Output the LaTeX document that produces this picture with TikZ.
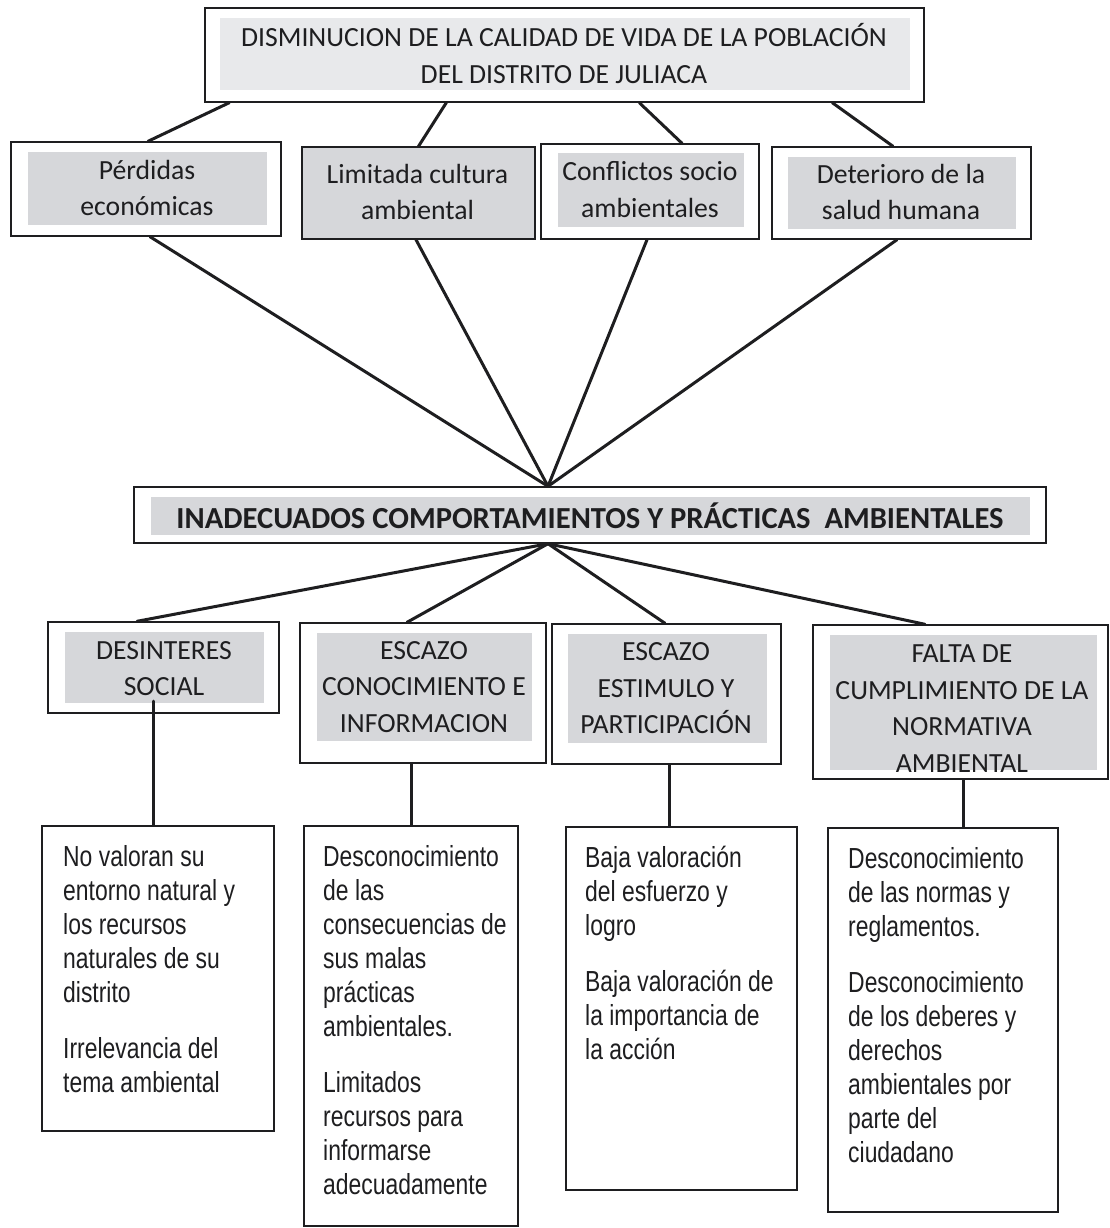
\documentclass[tikz,border=0pt]{standalone}
\usepackage{fontspec}
\setmainfont{Carlito}
\newfontfamily\arialn{Liberation Sans}[FakeStretch=0.79]
\usetikzlibrary{calc}
\definecolor{greyfill}{RGB}{214,215,218}
\definecolor{lightfill}{RGB}{232,233,235}
\definecolor{ink}{RGB}{30,30,32}
\tikzset{
  outer/.style={draw=ink, line width=1.4pt, fill=white, inner sep=0pt, rectangle},
  shadebox/.style={fill=greyfill, inner sep=0pt, rectangle},
  label/.style={inner sep=0pt, align=center, text=ink, font=\fontsize{27.7}{36.5}\selectfont},
  boldlabel/.style={inner sep=0pt, align=center, text=ink, font=\bfseries\fontsize{30.6}{36}\selectfont},
  link/.style={draw=ink, line width=3pt, line cap=round},
  bodytext/.style={anchor=north west, inner sep=0pt, align=left, text=ink, font=\arialn\fontsize{29}{34}\selectfont},
}
\begin{document}
\begin{tikzpicture}[x=1pt,y=-1pt]
\useasboundingbox (0,0) rectangle (1110,1228);
\fill[white] (0,0) rectangle (1110,1228);

% ---------- top box ----------
\node[outer, minimum width=719pt, minimum height=94pt] (t) at (564.5,55) {};
\node[shadebox, fill=lightfill, minimum width=690pt, minimum height=72pt] (tg) at (565,54) {};
\node[label] (tl) at (564,53.5) {DISMINUCION DE LA CALIDAD DE VIDA DE LA POBLACIÓN\\DEL DISTRITO DE JULIACA};

% ---------- effects ----------
\node[outer, minimum width=270pt, minimum height=94pt] (p1) at (146,189) {};
\node[shadebox, minimum width=239pt, minimum height=73pt] (p1g) at (147.5,188.5) {};
\node[label] (p1l) at (147,188) {Pérdidas\\económicas};

\node[outer, fill=greyfill, minimum width=233pt, minimum height=92pt] (p2) at (418.5,193) {};
\node[label] (p2l) at (417.5,192) {Limitada cultura\\ambiental};

\node[outer, minimum width=218pt, minimum height=95pt] (p3) at (650,191.5) {};
\node[shadebox, minimum width=186pt, minimum height=74pt] (p3g) at (651,190) {};
\node[label] (p3l) at (650,189.5) {Conflictos socio\\ambientales};

\node[outer, minimum width=259pt, minimum height=92pt] (p4) at (901.5,193) {};
\node[shadebox, minimum width=228pt, minimum height=72pt] (p4g) at (902,193) {};
\node[label] (p4l) at (901,192) {Deterioro de la\\salud humana};

% ---------- central problem ----------
\node[outer, minimum width=912pt, minimum height=56pt] (m) at (590,515) {};
\node[shadebox, minimum width=879pt, minimum height=38pt] (mg) at (590.5,516) {};
\node[boldlabel] (ml) at (590,515.5) {INADECUADOS COMPORTAMIENTOS Y PRÁCTICAS\ \ AMBIENTALES};

% ---------- causes ----------
\node[outer, minimum width=231pt, minimum height=91pt] (c1) at (163.5,667.5) {};
\node[shadebox, minimum width=199pt, minimum height=71pt] (c1g) at (164.5,667.5) {};
\node[label] (c1l) at (164,668.5) {DESINTERES\\SOCIAL};

\node[outer, minimum width=246pt, minimum height=140pt] (c2) at (423,693) {};
\node[shadebox, minimum width=215pt, minimum height=108pt] (c2g) at (424.5,687) {};
\node[label] (c2l) at (424,687) {ESCAZO\\CONOCIMIENTO E\\INFORMACION};

\node[outer, minimum width=229pt, minimum height=140pt] (c3) at (666.5,694) {};
\node[shadebox, minimum width=199pt, minimum height=109pt] (c3g) at (667.5,688.5) {};
\node[label] (c3l) at (666,688.5) {ESCAZO\\ESTIMULO Y\\PARTICIPACIÓN};

\node[outer, minimum width=295pt, minimum height=154pt] (c4) at (960.5,702) {};
\node[shadebox, minimum width=267pt, minimum height=135pt] (c4g) at (963.5,702.5) {};
\node[label] (c4l) at (962,708.5) {FALTA DE\\CUMPLIMIENTO DE LA\\NORMATIVA\\AMBIENTAL};

% ---------- details ----------
\node[outer, minimum width=232pt, minimum height=305pt] (b1) at (158,978.5) {};
\node[outer, minimum width=214pt, minimum height=400pt] (b2) at (411,1026) {};
\node[outer, minimum width=231pt, minimum height=363pt] (b3) at (681.5,1008.5) {};
\node[outer, minimum width=230pt, minimum height=384pt] (b4) at (943,1020) {};

\node[bodytext] (b1t) at (63,845) {No valoran su\\entorno natural y\\los recursos\\naturales de su\\distrito\\[22pt]Irrelevancia del\\tema ambiental};
\node[bodytext] (b2t) at (323,845) {Desconocimiento\\de las\\consecuencias de\\sus malas\\prácticas\\ambientales.\\[22pt]Limitados\\recursos para\\informarse\\adecuadamente};
\node[bodytext] (b3t) at (585,846) {Baja valoración\\del esfuerzo y\\logro\\[22pt]Baja valoración de\\la importancia de\\la acción};
\node[bodytext] (b4t) at (848,847) {Desconocimiento\\de las normas y\\reglamentos.\\[22pt]Desconocimiento\\de los deberes y\\derechos\\ambientales por\\parte del\\ciudadano};

% ---------- connectors: effects to top ----------
\draw[link] ([xshift=2pt]p1.north) -- ([xshift=25pt]t.south west);
\draw[link] (p2.north) -- ([xshift=242pt]t.south west);
\draw[link] ([xshift=32pt]p3.north) -- ([xshift=435pt]t.south west);
\draw[link] ([xshift=-8.5pt]p4.north) -- ([xshift=628pt]t.south west);

% ---------- connectors: effects to central ----------
\coordinate (hubup) at ([xshift=-42pt]m.north);
\draw[link] ([xshift=4pt]p1.south) -- (hubup);
\draw[link] ([xshift=-2.5pt]p2.south) -- (hubup);
\draw[link] ([xshift=-3pt]p3.south) -- (hubup);
\draw[link] ([xshift=-4.5pt]p4.south) -- (hubup);

% ---------- connectors: central to causes ----------
\coordinate (hubdn) at ([xshift=-42pt]m.south);
\draw[link] (hubdn) -- ([xshift=-26.5pt]c1.north);
\draw[link] (hubdn) -- ([xshift=-16pt]c2.north);
\draw[link] (hubdn) -- ([xshift=-1.5pt]c3.north);
\draw[link] (hubdn) -- ([xshift=-35.5pt]c4.north);

% ---------- connectors: causes to details ----------
\coordinate (s1) at (153,701);
\draw[link] (s1) -- (s1 |- b1.north);
\draw[link] (b2.north |- c2.south) -- (b2.north);
\draw[link] ([xshift=-12.5pt]b3.north |- c3.south) -- ([xshift=-12.5pt]b3.north);
\draw[link] ([xshift=20pt]b4.north |- c4.south) -- ([xshift=20pt]b4.north);
\end{tikzpicture}
\end{document}
